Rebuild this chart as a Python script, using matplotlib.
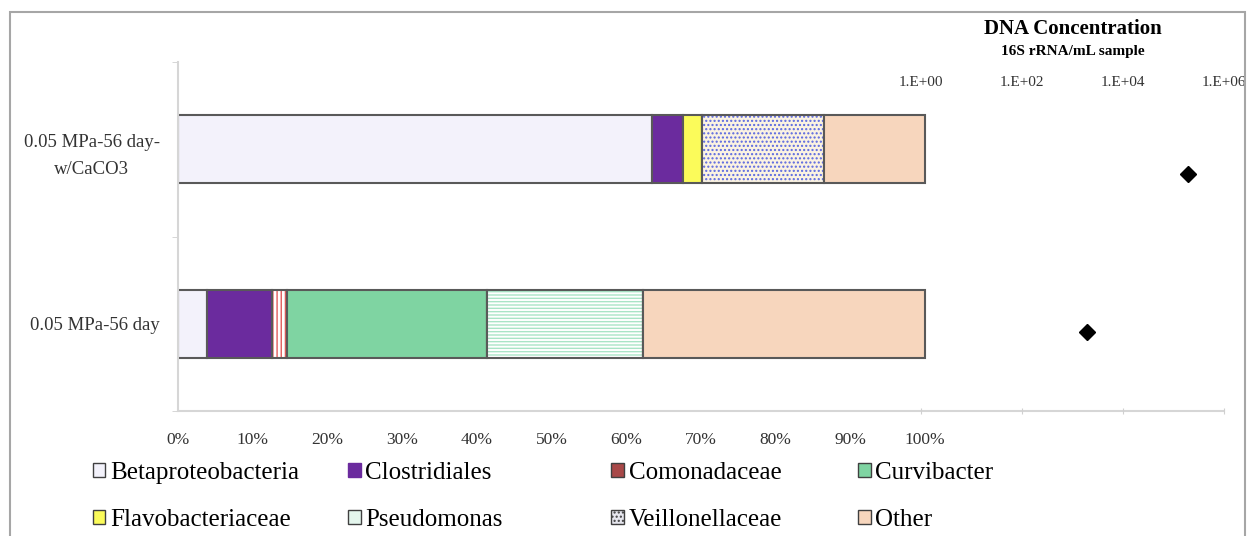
import numpy as np
import matplotlib.pyplot as plt
from matplotlib.patches import Patch, Rectangle

plt.rcParams['font.family'] = ['Liberation Serif', 'DejaVu Serif']

categories = ['0.05 MPa-56 day', '0.05 MPa-56 day-\nw/CaCO3']
beta = [3.9, 63.4]
clostridiales = [8.7, 4.2]
comonadaceae = [2.0, 0.0]
curvibacter = [26.8, 0.0]
flavobacteriaceae = [0.0, 2.5]
pseudomonas = [20.8, 0.0]
veillonellaceae = [0.0, 16.3]
other = [37.8, 13.6]

dna_conc = [1.9e3, 1.9e5]
dna_y = [1, 3]
dna_ticks = [1e0, 1e2, 1e4, 1e6]
dna_ticklabels = ['1.E+00', '1.E+02', '1.E+04', '1.E+06']

series = [
    ('Betaproteobacteria', beta),
    ('Clostridiales', clostridiales),
    ('Comonadaceae', comonadaceae),
    ('Curvibacter', curvibacter),
    ('Flavobacteriaceae', flavobacteriaceae),
    ('Pseudomonas', pseudomonas),
    ('Veillonellaceae', veillonellaceae),
    ('Other', other),
]
# face colour, hatch, hatch colour
styles = {
    'Betaproteobacteria': ('#f3f2fb', None, None),
    'Clostridiales': ('#6b2b9e', None, None),
    'Comonadaceae': ('#ffffff', '||||', '#e25a5a'),
    'Curvibacter': ('#7fd4a2', None, None),
    'Flavobacteriaceae': ('#fbfb5a', None, None),
    'Pseudomonas': ('#ffffff', '-----', '#a9e4c6'),
    'Veillonellaceae': ('#fbf3e2', '....', '#5a68e0'),
    'Other': ('#f7d6bd', None, None),
}
# legend swatches
legend_face = {
    'Betaproteobacteria': ('#f3f2fb', None),
    'Clostridiales': ('#6b2b9e', None),
    'Comonadaceae': ('#a84848', None),
    'Curvibacter': ('#7fd4a2', None),
    'Flavobacteriaceae': ('#fbfb5a', None),
    'Pseudomonas': ('#e4f6ed', None),
    'Veillonellaceae': ('#e6e6ee', '....'),
    'Other': ('#f7d6bd', None),
}
edge = '#595959'
W, H = 1252, 536

fig = plt.figure(figsize=(W / 100, H / 100), dpi=100)
ax = fig.add_axes([178 / W, 1 - 411 / H, 1046 / W, 349 / H])

y = np.arange(len(categories))
left = np.zeros(len(categories))
for name, vals in series:
    v = np.array(vals) / 100.0
    fc, hatch, hc = styles[name]
    if hatch:
        ax.barh(y, v, 0.39, left=left, color=fc, hatch=hatch,
                edgecolor=hc, linewidth=0)
        ax.barh(y, v, 0.39, left=left, fill=False, edgecolor=edge,
                linewidth=1.5)
    else:
        ax.barh(y, v, 0.39, left=left, color=fc, edgecolor=edge,
                linewidth=1.5)
    left += v

ax.set_xlim(0, 1.4)
ax.set_ylim(-0.5, 1.5)
ax.set_xticks(np.arange(0, 1.01, 0.1))
ax.set_xticklabels([f'{int(round(t * 100))}%' for t in np.arange(0, 1.01, 0.1)],
                   fontsize=12.5, color='#333333')
ax.set_yticks(y)
ax.set_yticklabels(categories, fontsize=13.5, color='#333333',
                   multialignment='center', linespacing=1.75)
ax.set_yticks([-0.5, 0.5, 1.5], minor=True)
ax.tick_params(axis='y', which='major', length=0, pad=13)
ax.tick_params(axis='y', which='minor', length=4, color='#d0d0d0')
ax.tick_params(axis='x', length=0, pad=15)
for s in ['top', 'right']:
    ax.spines[s].set_visible(False)
for s in ['left', 'bottom']:
    ax.spines[s].set_color('#d6d6d6')
    ax.spines[s].set_linewidth(1.5)

# DNA concentration panel
ax2 = fig.add_axes([921 / W, 1 - 411 / H, 303 / W, 316 / H])
ax2.patch.set_alpha(0)
ax2.set_xscale('log')
ax2.set_xlim(1e0, 1e6)
ax2.set_ylim(0, 4)
ax2.plot(dna_conc, dna_y, linestyle='none', marker='D', markersize=8,
         color='black')
ax2.set_xticks(dna_ticks)
ax2.set_xticklabels(dna_ticklabels, fontsize=11, color='#333333')
ax2.xaxis.set_minor_locator(plt.NullLocator())
ax2.tick_params(axis='x', which='major', top=True, labeltop=True,
                labelbottom=False, bottom=True, direction='inout',
                length=5, color='#d0d0d0', pad=2)
ax2.tick_params(axis='x', which='major', top=False)
ax2.set_yticks([])
for s in ax2.spines.values():
    s.set_visible(False)
ax2.text(0.5, 1.21, 'DNA Concentration', transform=ax2.transAxes,
         ha='center', va='center', fontsize=15, fontweight='bold')
ax2.text(0.5, 1.137, '16S rRNA/mL sample', transform=ax2.transAxes,
         ha='center', va='center', fontsize=11, fontweight='bold')

# legend, one column per block
col_x = [93, 348, 611, 858]
for i, cx in enumerate(col_x):
    handles = []
    for name, _ in (series[i], series[i + 4]):
        fc, hatch = legend_face[name]
        ec = fc if name == 'Clostridiales' else '#404040'
        handles.append(Patch(facecolor=fc, edgecolor=ec, hatch=hatch,
                             linewidth=1, label=name))
    fig.legend(handles=handles, loc='upper left',
               bbox_to_anchor=(cx / W, 1 - 462 / H), frameon=False,
               fontsize=18, handlelength=0.5, handleheight=0.5,
               handletextpad=0.2, borderpad=0, borderaxespad=0,
               labelspacing=1.0)

fig.patches.append(Rectangle((10 / W, -0.05), 1235 / W, 1.05 - 12 / H,
                             transform=fig.transFigure, fill=False,
                             edgecolor='#a6a6a6', linewidth=1.5))

fig.savefig('out.png', dpi=100)
